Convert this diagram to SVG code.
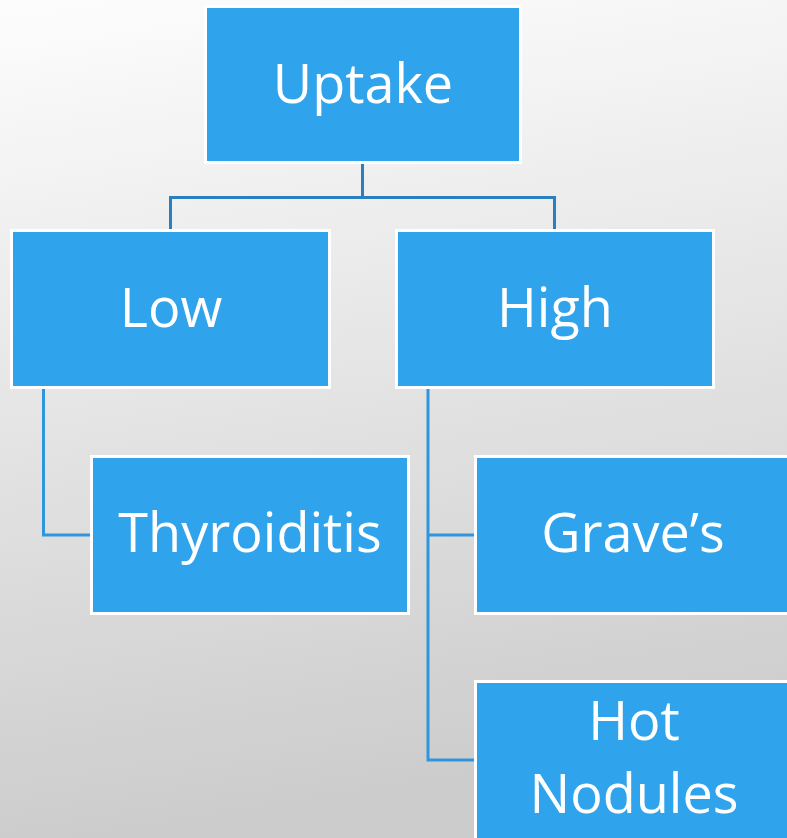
<svg xmlns="http://www.w3.org/2000/svg" width="787" height="838" viewBox="0 0 787 838">
<defs>
<linearGradient id="bg" x1="0" y1="0" x2="0.15" y2="1">
<stop offset="0" stop-color="#fdfdfd"/>
<stop offset="1" stop-color="#cccccc"/>
</linearGradient>
</defs>
<style>
.box{fill:#2FA3EC;stroke:#ffffff;stroke-width:3}
.lbl{fill:#ffffff;font-family:"Open Sans","DejaVu Sans",sans-serif;font-size:54px;text-anchor:middle}
.c1{fill:none;stroke:#2A7FBE;stroke-width:3}
.c2{fill:none;stroke:#2F95DD;stroke-width:3}
</style>
<rect x="0" y="0" width="787" height="838" fill="url(#bg)"/>
<g id="connectors">
<path class="c1" d="M362.5,164 V197.5 H170.5 V230 M362.5,197.5 H554.5 V230"/>
<path class="c2" d="M43.5,389 V535 H91"/>
<path class="c2" d="M428,389 V760 H475 M428,535 H475"/>
</g>
<g id="uptake">
<rect class="box" x="205.5" y="6.5" width="315" height="156"/>
<text class="lbl" x="363" y="103">Uptake</text>
</g>
<g id="low">
<rect class="box" x="11.5" y="230.5" width="318" height="157"/>
<text class="lbl" x="171" y="327">Low</text>
</g>
<g id="high">
<rect class="box" x="396.5" y="230.5" width="317" height="157"/>
<text class="lbl" x="555" y="327">High</text>
</g>
<g id="thyroiditis">
<rect class="box" x="91.5" y="456.5" width="317" height="157"/>
<text class="lbl" x="250" y="552">Thyroiditis</text>
</g>
<g id="graves">
<rect class="box" x="475.5" y="456.5" width="318" height="157"/>
<text class="lbl" x="633" y="552">Grave’s</text>
</g>
<g id="hotnodules">
<rect class="box" x="475.5" y="681.5" width="318" height="160"/>
<text class="lbl" x="634" y="740">Hot</text>
<text class="lbl" x="634" y="813">Nodules</text>
</g>
</svg>
